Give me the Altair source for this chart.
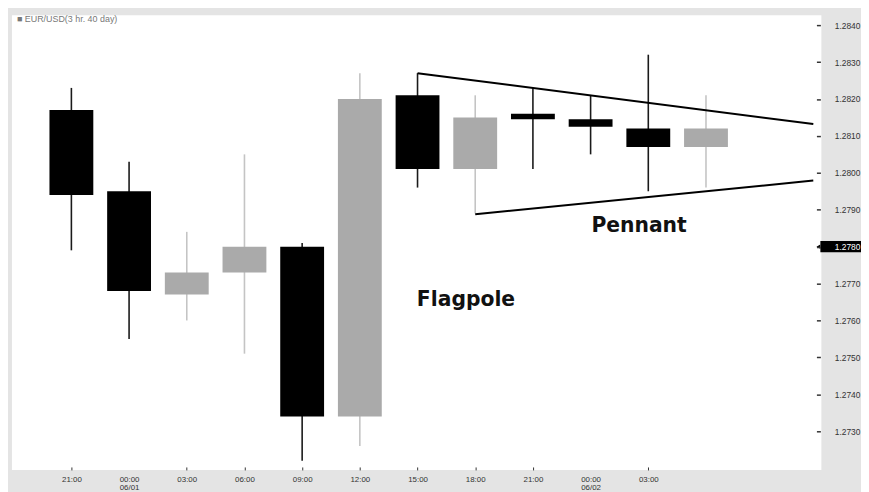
import altair as alt
import pandas as pd

# ---- data ----
times = ["21:00", "00:00", "03:00", "06:00", "09:00", "12:00", "15:00", "18:00", "21:00", "00:00", "03:00", ""]
dates = ["", "06/01", "", "", "", "", "", "", "", "06/02", "", ""]
opens = [1.2817, 1.2795, 1.2767, 1.2773, 1.2780, 1.2734, 1.2821, 1.2801, 1.2816, 1.28145, 1.2812, 1.2807]
highs = [1.2823, 1.2803, 1.2784, 1.2805, 1.2781, 1.2827, 1.2827, 1.2821, 1.2823, 1.2821, 1.2832, 1.2821]
lows = [1.2779, 1.2755, 1.2760, 1.2751, 1.2722, 1.2726, 1.2796, 1.2789, 1.2801, 1.2805, 1.2795, 1.2796]
closes = [1.2794, 1.2768, 1.2773, 1.2780, 1.2734, 1.2820, 1.2801, 1.2815, 1.28145, 1.28125, 1.2807, 1.2812]

# pennant trend lines (candle index, price)
upper_x = [6.0, 12.86]
upper_y = [1.2827, 1.28132]
lower_x = [7.0, 12.86]
lower_y = [1.27888, 1.27979]

y_ticks = [1.2730, 1.2740, 1.2750, 1.2760, 1.2770, 1.2780, 1.2790, 1.2800, 1.2810, 1.2820, 1.2830, 1.2840]
marked_price = 1.2780

df = pd.DataFrame({
    "i": list(range(len(opens))),
    "open": opens, "high": highs, "low": lows, "close": closes,
})
df["down"] = [c < o for o, c in zip(opens, closes)]
df["top"] = df[["open", "close"]].max(axis=1)
df["bot"] = df[["open", "close"]].min(axis=1)

lines = pd.DataFrame({
    "x": upper_x + lower_x,
    "y": upper_y + lower_y,
    "line": ["upper"] * len(upper_x) + ["lower"] * len(lower_x),
})

label_items = []
for t, d in zip(times, dates):
    if d:
        label_items.append("['%s','%s']" % (t, d))
    else:
        label_items.append("'%s'" % t)
label_expr = "[" + ",".join(label_items) + "][datum.value]"
date_ticks = [i for i, d in enumerate(dates) if d]
date_test = " || ".join("datum.value == %d" % i for i in date_ticks)

W, H = 817, 459
xs = alt.Scale(domain=[-1.03, 13.0], nice=False, zero=False)
ys = alt.Scale(domain=[1.27195, 1.28427], nice=False, zero=False)

x_axis = alt.Axis(
    values=list(range(11)), labelExpr=label_expr, title=None, grid=False, domain=False,
    tickSize=3, offset=-3, tickColor={"condition": {"test": date_test, "value": "transparent"}, "value": "#333"},
    labelFont="Liberation Sans", labelFontSize=8, labelColor="#333", labelPadding=6,
    labelLineHeight=8, labelFlush=False, labelOverlap=False, zindex=1,
)
y_axis = alt.Axis(
    orient="right", values=y_ticks, format=".4f", title=None, grid=False, domain=False,
    tickSize=4, offset=-5, tickColor="#333", tickWidth=1.5,
    labelFont="Liberation Sans", labelFontSize=8.5, labelPadding=14,
    labelColor={"condition": {"test": "abs(datum.value - %f) < 0.00001" % marked_price, "value": "white"}, "value": "#333"},
    zindex=1,
)

base = alt.Chart(df)

wicks = base.mark_rule(strokeWidth=1.6).encode(
    x=alt.X("i:Q", scale=xs, axis=x_axis),
    y=alt.Y("low:Q", scale=ys, axis=y_axis),
    y2="high:Q",
    color=alt.condition("datum.down", alt.value("#1a1a1a"), alt.value("#c4c4c4")),
)

bodies = base.transform_calculate(
    x1="datum.i - 0.38", x2="datum.i + 0.38"
).mark_rect().encode(
    x=alt.X("x1:Q", scale=xs),
    x2="x2:Q",
    y=alt.Y("top:Q", scale=ys),
    y2="bot:Q",
    color=alt.condition("datum.down", alt.value("#000000"), alt.value("#aaaaaa")),
)

trend = alt.Chart(lines).mark_line(color="black", strokeWidth=2).encode(
    x=alt.X("x:Q", scale=xs),
    y=alt.Y("y:Q", scale=ys),
    detail="line:N",
)

ann = pd.DataFrame({"x": [6.84, 9.84], "y": [1.27638, 1.27839], "t": ["Flagpole", "Pennant"]})
texts = alt.Chart(ann).mark_text(
    font="DejaVu Sans", fontWeight="bold", fontSize=20.5, color="#111", baseline="alphabetic", align="center"
).encode(x=alt.X("x:Q", scale=xs), y=alt.Y("y:Q", scale=ys), text="t:N")

title = alt.Chart(pd.DataFrame({"t": ["\u25a0 EUR/USD(3 hr. 40 day)"]})).mark_text(
    font="Liberation Sans", fontSize=9, color="#777", align="left", baseline="middle"
).encode(x=alt.value(5), y=alt.value(4), text="t:N")

mark_df = pd.DataFrame({"p": [marked_price]})
box = alt.Chart(mark_df).transform_calculate(
    p1="datum.p + 0.00015", p2="datum.p - 0.00015"
).mark_rect(color="black").encode(
    x=alt.value(W - 1), x2=alt.value(W + 40),
    y=alt.Y("p1:Q", scale=ys), y2="p2:Q",
)
pointer = alt.Chart(mark_df).mark_point(shape="triangle-left", filled=True, color="black", size=20, opacity=1).encode(
    x=alt.value(W - 3), y=alt.Y("p:Q", scale=ys),
)

chart = alt.layer(wicks, bodies, trend, texts, title, box, pointer).properties(
    width=W, height=H,
    autosize=alt.AutoSizeParams(type="none"),
    padding={"left": 4, "top": 5, "right": 40, "bottom": 20},
    background="#e4e4e4",
).configure_view(fill="white", stroke=None)

chart.save("out.html", embed_options={"renderer": "svg", "actions": False})
